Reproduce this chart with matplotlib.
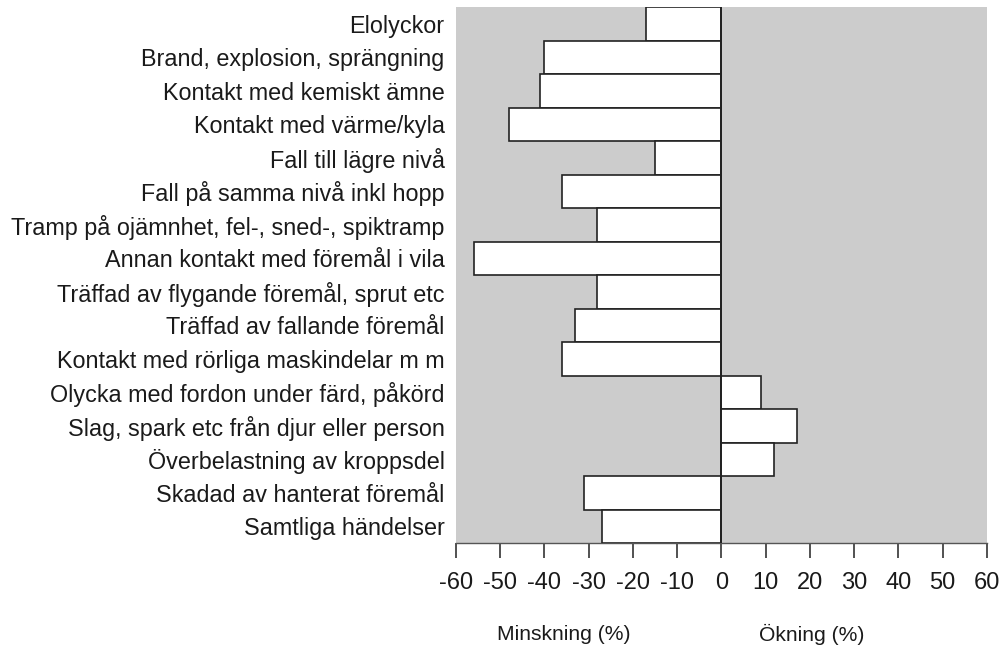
import matplotlib
matplotlib.use("Agg")
import matplotlib.pyplot as plt

plt.rcParams['font.family'] = ['Liberation Sans', 'DejaVu Sans']
plt.rcParams['axes.unicode_minus'] = False

categories = [
    "Elolyckor",
    "Brand, explosion, sprängning",
    "Kontakt med kemiskt ämne",
    "Kontakt med värme/kyla",
    "Fall till lägre nivå",
    "Fall på samma nivå inkl hopp",
    "Tramp på ojämnhet, fel-, sned-, spiktramp",
    "Annan kontakt med föremål i vila",
    "Träffad av flygande föremål, sprut etc",
    "Träffad av fallande föremål",
    "Kontakt med rörliga maskindelar m m",
    "Olycka med fordon under färd, påkörd",
    "Slag, spark etc från djur eller person",
    "Överbelastning av kroppsdel",
    "Skadad av hanterat föremål",
    "Samtliga händelser",
]
values = [-17, -40, -41, -48, -15, -36, -28, -56, -28, -33, -36, 9, 17, 12, -31, -27]
xticks = [-60, -50, -40, -30, -20, -10, 0, 10, 20, 30, 40, 50, 60]

fig = plt.figure(figsize=(10.04, 6.48), dpi=100)
ax = fig.add_axes([0.454, 0.162, 0.529, 0.827])
ax.set_facecolor('#cccccc')

y = list(range(len(categories)))
ax.barh(y, values, height=1.0, color='white', edgecolor='#222222', linewidth=1.2, zorder=3)
ax.axvline(0, color='#222222', linewidth=1.4, zorder=4)

ax.set_xlim(-60, 60)
ax.set_ylim(len(categories) - 0.5, -0.5)
ax.set_yticks(y)
ax.set_yticklabels(categories, fontsize=16.8, color='#1a1a1a')
ax.tick_params(axis='y', length=0, pad=8)
ax.set_xticks(xticks)
ax.set_xticklabels([str(t) for t in xticks], fontsize=17, color='#1a1a1a')
ax.tick_params(axis='x', length=11, width=1.2, color='#333333', pad=10, direction='out')

for s in ['top', 'right', 'left']:
    ax.spines[s].set_visible(False)
ax.spines['bottom'].set_color('#555555')
ax.spines['bottom'].set_linewidth(1.0)

fig.text(564 / 1004, 1 - 634 / 648, "Minskning (%)", fontsize=15.2, ha='center', va='center', color='#1a1a1a')
fig.text(812 / 1004, 1 - 634 / 648, "Ökning (%)", fontsize=15.2, ha='center', va='center', color='#1a1a1a')

fig.savefig("out.png", dpi=100, facecolor='white')
